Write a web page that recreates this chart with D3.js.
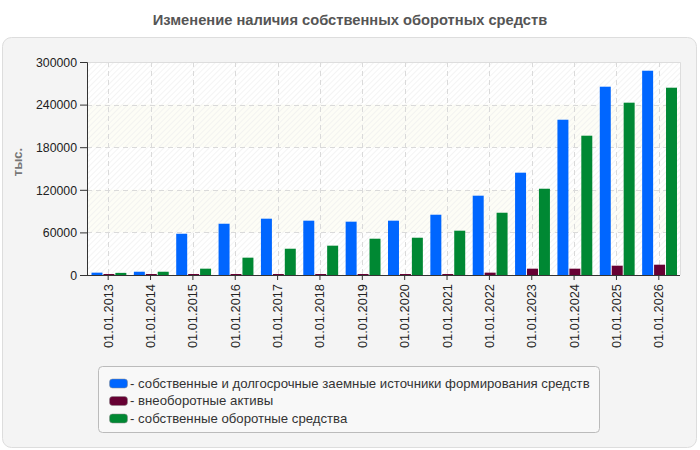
<!DOCTYPE html>
<html><head><meta charset="utf-8">
<script src="https://cdn.jsdelivr.net/npm/d3@7/dist/d3.min.js"></script>
<style>body{margin:0;background:#fff;} svg{display:block;font-family:"Liberation Sans",Arial,sans-serif;}</style>
</head><body><svg id="c" width="700" height="450"></svg>
<script>
const categories = ["01.01.2013","01.01.2014","01.01.2015","01.01.2016","01.01.2017","01.01.2018","01.01.2019","01.01.2020","01.01.2021","01.01.2022","01.01.2023","01.01.2024","01.01.2025","01.01.2026"];
const seriesNames = ["- собственные и долгосрочные заемные источники формирования средств","- внеоборотные активы","- собственные оборотные средства"];
const seriesColors = ["#0066ff","#660033","#008833"];
const sourcesValues = [3300,4600,58100,72200,79300,76500,75100,76500,84900,111700,144100,218700,265200,287700];
const nonCurrentValues = [1400,1400,1400,1400,1400,1400,1400,1400,1400,3300,8900,8900,13100,14500];
const workingCapitalValues = [3000,4600,8900,24400,37000,41300,51100,52500,62400,87700,121500,196200,242700,263800];
const yTicks = [0,60000,120000,180000,240000,300000];
const title = "Изменение наличия собственных оборотных средств";
const yLabel = "тыс.";

const series = [sourcesValues, nonCurrentValues, workingCapitalValues];
const svg = d3.select("#c");
const L=87, R=680, T=62, B=275;
const FONT = "Liberation Sans, Arial, sans-serif";

const defs = svg.append("defs");
const pat = defs.append("pattern").attr("id","hatch").attr("patternUnits","userSpaceOnUse")
  .attr("width",4).attr("height",4).attr("patternTransform","rotate(45)");
pat.append("line").attr("x1",0).attr("y1",0).attr("x2",0).attr("y2",4).attr("stroke","#ececec").attr("stroke-width",1.5);

// panel
svg.append("rect").attr("x",2.5).attr("y",37.5).attr("width",694).attr("height",410).attr("rx",9)
  .attr("fill","#f4f4f4").attr("stroke","#dddddd");
svg.append("text").attr("x",350).attr("y",25).attr("text-anchor","middle")
  .attr("font-size",14.7).attr("font-weight","bold").attr("fill","#555").text(title);

const x = d3.scaleBand().domain(categories).range([L,R]).paddingInner(0).paddingOuter(0);
const y = d3.scaleLinear().domain([0,300000]).range([B,T]);
const xs = d3.scaleBand().domain([0,1,2]).range([4.5, x.bandwidth()-3]).paddingInner(0.08);

// plot background
svg.append("rect").attr("x",L).attr("y",T).attr("width",R-L).attr("height",B-T).attr("fill","#ffffff");
for(let i=0;i<yTicks.length-1;i++){
  if(i%2===1){
    svg.append("rect").attr("x",L).attr("y",y(yTicks[i+1])).attr("width",R-L)
      .attr("height",y(yTicks[i])-y(yTicks[i+1])).attr("fill","#fdfdf6");
  }
}
svg.append("rect").attr("x",L).attr("y",T).attr("width",R-L).attr("height",B-T).attr("fill","url(#hatch)").attr("opacity",0.8);

// grid
svg.append("g").selectAll("line").data(yTicks.slice(1,-1)).join("line")
  .attr("x1",L).attr("x2",R).attr("y1",d=>Math.round(y(d))+0.5).attr("y2",d=>Math.round(y(d))+0.5)
  .attr("stroke","#dadada").attr("stroke-dasharray","5,4");
svg.append("g").selectAll("line").data(categories).join("line")
  .attr("x1",d=>Math.round(x(d)+x.bandwidth()/2)+0.5).attr("x2",d=>Math.round(x(d)+x.bandwidth()/2)+0.5)
  .attr("y1",T).attr("y2",B).attr("stroke","#dadada").attr("stroke-dasharray","5,4");
svg.append("path").attr("d",`M${L},${T+0.5}H${R+0.5}V${B}`).attr("fill","none").attr("stroke","#dddddd");

// bars
series.forEach((vals,si)=>{
  svg.append("g").selectAll("rect").data(vals).join("rect")
    .attr("x",(d,i)=>x(categories[i])+xs(si)).attr("width",xs.bandwidth())
    .attr("y",d=>y(d)).attr("height",d=>B-y(d)).attr("fill",seriesColors[si]);
});

// axes
const ya = svg.append("g").attr("transform",`translate(${L},0)`)
  .call(d3.axisLeft(y).tickValues(yTicks).tickSize(7).tickFormat(d3.format("d")));
ya.select(".domain").attr("stroke","#333").attr("d",`M-7,${T+0.5}H0.5V${B}`);
ya.selectAll(".tick line").attr("stroke","#333");
ya.selectAll("text").attr("font-size",12.3).attr("fill","#222").attr("font-family",FONT).attr("dy","0.35em").attr("x",-10);

const xa = svg.append("g").attr("transform",`translate(0,${B})`)
  .call(d3.axisBottom(x).tickSize(5));
xa.select(".domain").attr("stroke","#333").attr("d",`M${L},0.5H${R}`);
xa.selectAll(".tick line").attr("stroke","#333");
xa.selectAll("text").attr("font-size",12.8).attr("fill","#222").attr("font-family",FONT)
  .attr("transform","rotate(-90)").attr("text-anchor","end").attr("x",-9).attr("y",0).attr("dy","0.35em");

svg.append("text").attr("transform","translate(22,162) rotate(-90)").attr("text-anchor","middle")
  .attr("font-size",13).attr("font-weight","bold").attr("fill","#777").text(yLabel);

// legend
svg.append("rect").attr("x",98.5).attr("y",366.5).attr("width",501).attr("height",66).attr("rx",4)
  .attr("fill","#f8f8f8").attr("stroke","#bbbbbb");
seriesNames.forEach((n,i)=>{
  const yy = 383 + i*17.5;
  svg.append("rect").attr("x",109.5).attr("y",yy-4).attr("width",18).attr("height",9).attr("rx",3)
    .attr("fill",seriesColors[i]).attr("stroke","#888").attr("stroke-width",0.5);
  svg.append("text").attr("x",130).attr("y",yy).attr("dy","0.35em").attr("font-size",13.2).attr("fill","#333").text(n);
});
</script></body></html>
